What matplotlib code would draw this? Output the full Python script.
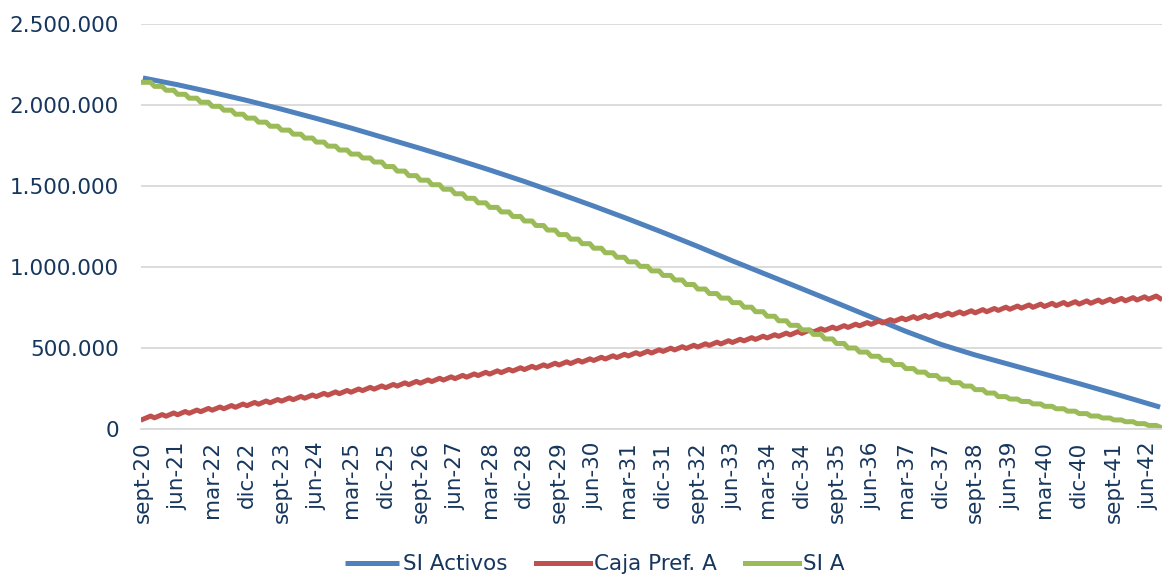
import numpy as np
import matplotlib
matplotlib.use("Agg")
import matplotlib.pyplot as plt
from matplotlib.ticker import FuncFormatter

# monthly index: 0 = sept-20 ... 264 = sept-42
n_months = 265

tick_labels = ["sept-20", "jun-21", "mar-22", "dic-22", "sept-23", "jun-24", "mar-25", "dic-25",
               "sept-26", "jun-27", "mar-28", "dic-28", "sept-29", "jun-30", "mar-31", "dic-31",
               "sept-32", "jun-33", "mar-34", "dic-34", "sept-35", "jun-36", "mar-37", "dic-37",
               "sept-38", "jun-39", "mar-40", "dic-40", "sept-41", "jun-42"]

# SI Activos (thousands), every 9 months plus last month
activos_idx = [0, 9, 18, 27, 36, 45, 54, 63, 72, 81, 90, 99, 108, 117, 126, 135, 144, 153,
               162, 171, 180, 189, 198, 207, 216, 225, 234, 243, 252, 261, 264]
si_activos = [2167, 2125, 2078, 2028, 1974, 1917, 1858, 1795, 1732, 1667, 1599, 1528, 1453,
              1376, 1296, 1213, 1127, 1038, 952, 866, 779, 691, 603, 523, 457, 398, 339,
              280, 219, 156, 135]

# Caja Pref. A (thousands): quarterly low after payment, and peak before payment
caja_low = [60, 69, 79, 88, 97, 107, 116, 125, 134, 144, 153, 162, 172, 181, 190, 200, 209,
            218, 227, 237, 246, 255, 265, 274, 283, 293, 302, 311, 320, 330, 339, 348, 358,
            367, 376, 386, 395, 404, 413, 423, 432, 441, 451, 460, 469, 479, 488, 497, 506,
            516, 525, 534, 544, 553, 562, 572, 581, 590, 599, 609, 618, 627, 637, 646, 655,
            665, 674, 681, 688, 696, 703, 710, 717, 724, 732, 739, 746, 751, 756, 761, 766,
            771, 776, 781, 786, 791, 796, 801, 806]
caja_peak = [80, 89, 99, 108, 117, 127, 136, 145, 154, 164, 173, 182, 192, 201, 210, 220, 229,
             238, 247, 257, 266, 275, 285, 294, 303, 313, 322, 331, 340, 350, 359, 368, 378,
             387, 396, 406, 415, 424, 433, 443, 452, 461, 471, 480, 489, 499, 508, 517, 526,
             536, 545, 554, 564, 573, 582, 592, 601, 610, 619, 629, 638, 647, 657, 666, 675,
             685, 694, 701, 708, 716, 723, 730, 737, 744, 752, 759, 766, 771, 776, 781, 786,
             791, 796, 801, 806, 811, 816, 821]

# SI A (thousands): balance held for each quarter
si_a = [2140, 2115, 2091, 2066, 2042, 2017, 1992, 1968, 1943, 1919, 1894, 1869, 1845, 1820,
        1796, 1771, 1746, 1722, 1697, 1673, 1648, 1620, 1592, 1564, 1536, 1508, 1480, 1452,
        1424, 1396, 1368, 1340, 1312, 1284, 1256, 1228, 1200, 1172, 1144, 1116, 1088, 1060,
        1032, 1004, 976, 948, 920, 892, 864, 836, 808, 780, 752, 724, 696, 668, 640, 612,
        584, 556, 528, 500, 475, 449, 424, 398, 373, 351, 330, 308, 286, 265, 243, 222, 200,
        185, 170, 155, 140, 125, 110, 95, 80, 68, 56, 45, 33, 22, 12]

BLUE = "#4F81BD"
RED = "#C0504D"
GREEN = "#9BBB59"
TEXT = "#17365D"

q_start = np.arange(0, n_months, 3)          # first month of each quarter
q_end = q_start[:-1] + 2                     # last month before the quarterly payment

# red: low -> peak -> next low
caja_x = np.column_stack([q_start[:-1], q_end]).ravel()
caja_x = np.append(caja_x, q_start[-1])
caja_y = np.column_stack([caja_low[:-1], caja_peak]).ravel()
caja_y = np.append(caja_y, caja_low[-1])

# green: flat within the quarter, steps down on payment
sia_x = np.append(np.column_stack([q_start[:-1], q_end]).ravel(), q_start[-1])
sia_y = np.append(np.repeat(si_a[:-1], 2), si_a[-1])

plt.rcParams["font.family"] = "DejaVu Sans"
fig = plt.figure(figsize=(11.62, 5.74), dpi=100)
ax = fig.add_axes([141 / 1162, 145 / 574, 1021 / 1162, 405 / 574])

lw = 3.6
ax.plot(activos_idx, np.array(si_activos) * 1000, color=BLUE, lw=lw, label="SI Activos",
        solid_capstyle="butt")
ax.plot(caja_x, caja_y * 1000, color=RED, lw=lw, label="Caja Pref. A", solid_joinstyle="round")
ax.plot(sia_x, sia_y * 1000, color=GREEN, lw=lw, label="SI A", solid_joinstyle="round")

ax.set_xlim(-0.5, n_months - 0.5)
ax.set_ylim(0, 2500000)
ax.set_yticks(np.arange(0, 2500001, 500000))
ax.yaxis.set_major_formatter(FuncFormatter(lambda v, p: f"{int(v):,}".replace(",", ".")))
ax.set_xticks(np.arange(0, 9 * len(tick_labels), 9))
ax.set_xticklabels(tick_labels, rotation=90)

ax.grid(axis="y", color="#D9D9D9", lw=1.3)
ax.set_axisbelow(True)
for s in ["top", "right", "left"]:
    ax.spines[s].set_visible(False)
ax.spines["bottom"].set_color("#D9D9D9")
ax.spines["bottom"].set_linewidth(1.3)
ax.tick_params(axis="both", length=0, labelsize=15.5, colors=TEXT)
ax.tick_params(axis="y", pad=16)
ax.tick_params(axis="x", pad=9)

fig.legend(loc="lower center", ncol=3, bbox_to_anchor=(0.512, -0.034), frameon=False,
           fontsize=15.5, labelcolor=TEXT, handlelength=2.5, handletextpad=0.2,
           columnspacing=1.3)

fig.savefig("out.png", dpi=100)
